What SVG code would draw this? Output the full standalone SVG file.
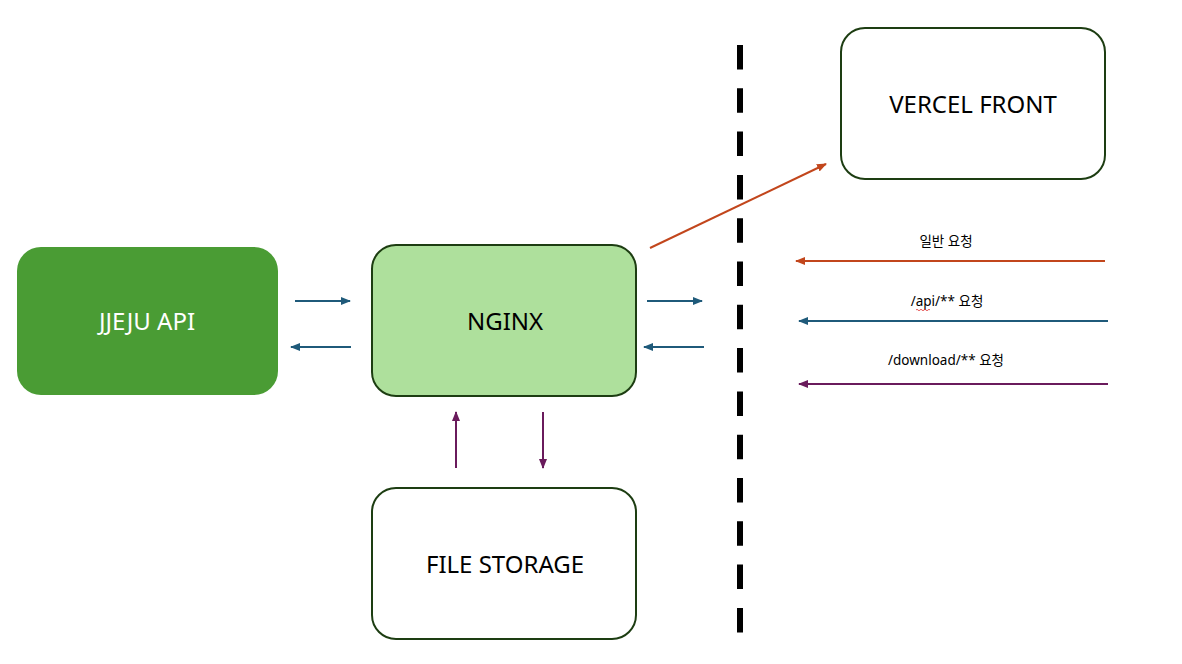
<svg xmlns="http://www.w3.org/2000/svg" width="1182" height="664" viewBox="0 0 1182 664">
<style>
.box{stroke:#1d3d12;stroke-width:2}
.lbl{font-family:"Noto Sans","Open Sans","Noto Sans CJK KR",sans-serif;font-size:24px;text-anchor:middle;fill:#000}
.sm{font-family:"Noto Sans","Noto Sans CJK KR",sans-serif;font-size:13.5px;text-anchor:middle;fill:#000}
.c{fill:none;stroke-width:2}
.blue{stroke:#1f5a7a}
.pur{stroke:#6a1b5c}
.org{stroke:#c2461c}
</style>
<defs>
<marker id="mb" markerUnits="userSpaceOnUse" markerWidth="10" markerHeight="8" refX="9" refY="4" orient="auto"><path d="M0,0 L10,4 L0,8 Z" fill="#1f5a7a"/></marker>
<marker id="mp" markerUnits="userSpaceOnUse" markerWidth="10" markerHeight="8" refX="9" refY="4" orient="auto"><path d="M0,0 L10,4 L0,8 Z" fill="#6a1b5c"/></marker>
<marker id="mo" markerUnits="userSpaceOnUse" markerWidth="10" markerHeight="8" refX="9" refY="4" orient="auto"><path d="M0,0 L10,4 L0,8 Z" fill="#c2461c"/></marker>
</defs>
<rect width="1182" height="664" fill="#fff"/>
<line x1="740" y1="45" x2="740" y2="633" stroke="#000" stroke-width="6" stroke-dasharray="24.5 18.8"/>
<g id="jjeju">
<rect x="17" y="247" width="261" height="148" rx="24" fill="#4a9c34"/>
<text class="lbl" x="147" y="330" fill="#fff" style="fill:#fff">JJEJU API</text>
</g>
<g id="nginx">
<rect class="box" x="372" y="245" width="264" height="151" rx="24" fill="#aee09c"/>
<text class="lbl" x="505" y="330">NGINX</text>
</g>
<g id="storage">
<rect class="box" x="372" y="488" width="264" height="151" rx="24" fill="#fff"/>
<text class="lbl" x="505" y="573">FILE STORAGE</text>
</g>
<g id="vercel">
<rect class="box" x="841" y="28" width="264" height="151" rx="24" fill="#fff"/>
<text class="lbl" x="973" y="113">VERCEL FRONT</text>
</g>
<g id="connectors">
<line class="c blue" x1="295" y1="301" x2="350" y2="301" marker-end="url(#mb)"/>
<line class="c blue" x1="351" y1="347" x2="291" y2="347" marker-end="url(#mb)"/>
<line class="c blue" x1="647" y1="301" x2="702" y2="301" marker-end="url(#mb)"/>
<line class="c blue" x1="704" y1="347" x2="644" y2="347" marker-end="url(#mb)"/>
<line class="c pur" x1="456" y1="468" x2="456" y2="412" marker-end="url(#mp)"/>
<line class="c pur" x1="543" y1="412" x2="543" y2="468" marker-end="url(#mp)"/>
<line class="c org" x1="650" y1="248" x2="826" y2="164" marker-end="url(#mo)"/>
<line class="c org" x1="1105" y1="261" x2="796" y2="261" marker-end="url(#mo)"/>
<line class="c blue" x1="1108" y1="321" x2="799" y2="321" marker-end="url(#mb)"/>
<line class="c pur" x1="1108" y1="384" x2="799" y2="384" marker-end="url(#mp)"/>
</g>
<g id="labels">
<text class="sm" x="946" y="246">일반 요청</text>
<text class="sm" x="947" y="306">/api/** 요청</text>
<path d="M916,310 q1,-1.5 2,0 t2,0 t2,0 t2,0 t2,0 t2,0 t2,0" fill="none" stroke="#e03030" stroke-width="0.8"/>
<text class="sm" x="946" y="365">/download/** 요청</text>
</g>
</svg>
